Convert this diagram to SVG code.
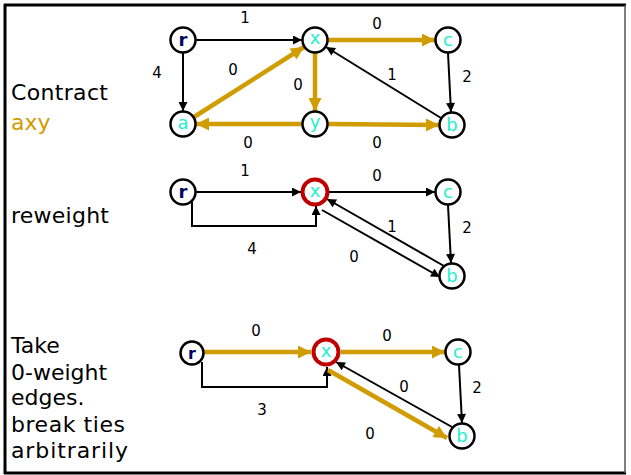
<svg xmlns="http://www.w3.org/2000/svg" width="631" height="475" viewBox="0 0 631 475">
  <style>
    .node { fill: #ffffff; stroke: #000000; stroke-width: 2.5; }
    .hot { fill: #ffffff; stroke: #c00000; stroke-width: 4; }
    .lbl { font-family: "DejaVu Sans", sans-serif; font-size: 18px; fill: #22f0cc; text-anchor: middle; }
    .root { font-family: "DejaVu Sans", sans-serif; font-size: 18px; font-weight: bold; fill: #000066; text-anchor: middle; }
    .w { font-family: "DejaVu Sans", sans-serif; font-size: 15px; fill: #000000; text-anchor: middle; }
    .side { font-family: "DejaVu Sans", sans-serif; font-size: 22px; fill: #000000; }
    .blk { fill: none; stroke: #000000; stroke-width: 2; marker-end: url(#ah); }
    .gld { fill: none; stroke: #d09c00; stroke-width: 4.5; marker-end: url(#gh); }
  </style>
  <defs>
    <marker id="ah" viewBox="0 0 10 10" refX="10" refY="5" markerUnits="userSpaceOnUse" markerWidth="10" markerHeight="9" orient="auto">
      <path d="M0,0 L10,5 L0,10 z" fill="#000000"/>
    </marker>
    <marker id="gh" viewBox="0 0 10 10" refX="10" refY="5" markerUnits="userSpaceOnUse" markerWidth="14" markerHeight="13" orient="auto">
      <path d="M0,0 L10,5 L0,10 z" fill="#d09c00"/>
    </marker>
  </defs>

  <!-- frame -->
  <line x1="4" y1="5" x2="626" y2="5" stroke="#000" stroke-width="3"/>
  <line x1="5" y1="4" x2="5" y2="474" stroke="#000" stroke-width="3"/>
  <line x1="4" y1="473" x2="626" y2="473" stroke="#000" stroke-width="3"/>
  <line x1="625" y1="5" x2="625" y2="473" stroke="#555" stroke-width="1.5"/>

  <!-- captions -->
  <text class="side" x="11" y="100" textLength="97">Contract</text>
  <text class="side" x="11" y="130" style="fill:#d09c00">axy</text>
  <text class="side" x="11" y="223" textLength="98">reweight</text>
  <text class="side" x="11" y="353">Take</text>
  <text class="side" x="11" y="380">0-weight</text>
  <text class="side" x="11" y="405">edges.</text>
  <text class="side" x="11" y="432" textLength="114">break ties</text>
  <text class="side" x="11" y="458" textLength="117">arbitrarily</text>

  <!-- connectors -->
  <g id="edges">
    <!-- step 1 -->
    <line class="blk" x1="196" y1="40" x2="302" y2="40"/>
    <line class="blk" x1="183" y1="53" x2="183" y2="111"/>
    <line class="gld" x1="194" y1="117" x2="304" y2="47"/>
    <line class="gld" x1="315" y1="53" x2="315" y2="111"/>
    <line class="gld" x1="302" y1="124" x2="196" y2="124"/>
    <line class="gld" x1="328" y1="40" x2="435" y2="40"/>
    <line class="gld" x1="328" y1="124" x2="439" y2="125"/>
    <line class="blk" x1="448" y1="53" x2="451" y2="112"/>
    <line class="blk" x1="441" y1="118" x2="326" y2="47"/>
    <!-- step 2 -->
    <line class="blk" x1="196" y1="192" x2="301" y2="192"/>
    <path class="blk" d="M192,202 V226 H316 V206"/>
    <line class="blk" x1="329" y1="192" x2="435" y2="192"/>
    <line class="blk" x1="448" y1="205" x2="451" y2="263"/>
    <line class="blk" x1="444" y1="266" x2="327" y2="199"/>
    <line class="blk" x1="322" y1="210" x2="440" y2="277"/>
    <!-- step 3 -->
    <line class="gld" x1="204" y1="352" x2="311" y2="352"/>
    <path class="blk" d="M202,362 V387 H327 V367"/>
    <line class="gld" x1="341" y1="352" x2="445" y2="352"/>
    <line class="blk" x1="459" y1="365" x2="462" y2="423"/>
    <line class="blk" x1="452" y1="427" x2="336" y2="362"/>
    <line class="gld" x1="328" y1="370" x2="447" y2="438"/>
  </g>

  <!-- weights -->
  <g id="weights">
    <text class="w" x="245" y="23">1</text>
    <text class="w" x="157" y="78">4</text>
    <text class="w" x="233" y="75">0</text>
    <text class="w" x="298" y="90">0</text>
    <text class="w" x="248" y="148">0</text>
    <text class="w" x="377" y="29">0</text>
    <text class="w" x="377" y="148">0</text>
    <text class="w" x="467" y="82">2</text>
    <text class="w" x="392" y="80">1</text>

    <text class="w" x="245" y="176">1</text>
    <text class="w" x="252" y="254">4</text>
    <text class="w" x="377" y="181">0</text>
    <text class="w" x="392" y="232">1</text>
    <text class="w" x="467" y="233">2</text>
    <text class="w" x="354" y="262">0</text>

    <text class="w" x="256" y="336">0</text>
    <text class="w" x="262" y="415">3</text>
    <text class="w" x="387" y="341">0</text>
    <text class="w" x="404" y="392">0</text>
    <text class="w" x="477" y="393">2</text>
    <text class="w" x="370" y="439">0</text>
  </g>

  <!-- step 1 nodes -->
  <g id="r1"><circle class="node" cx="183" cy="40" r="12.5"/><text class="root" x="183" y="46">r</text></g>
  <g id="x1"><circle class="node" cx="315" cy="40" r="12.5"/><text class="lbl" x="315" y="44">x</text></g>
  <g id="c1"><circle class="node" cx="448" cy="40" r="12.5"/><text class="lbl" x="448" y="46">c</text></g>
  <g id="a1"><circle class="node" cx="183" cy="124" r="12.5"/><text class="lbl" x="183" y="129">a</text></g>
  <g id="y1"><circle class="node" cx="315" cy="124" r="12.5"/><text class="lbl" x="315" y="128">y</text></g>
  <g id="b1"><circle class="node" cx="452" cy="125" r="12.5"/><text class="lbl" x="452" y="131">b</text></g>

  <!-- step 2 nodes -->
  <g id="r2"><circle class="node" cx="183" cy="192" r="12.5"/><text class="root" x="183" y="198">r</text></g>
  <g id="x2"><circle class="hot" cx="315" cy="192" r="12.5"/><text class="lbl" x="315" y="197">x</text></g>
  <g id="c2"><circle class="node" cx="448" cy="192" r="12.5"/><text class="lbl" x="448" y="198">c</text></g>
  <g id="b2"><circle class="node" cx="452" cy="276" r="12.5"/><text class="lbl" x="452" y="282">b</text></g>

  <!-- step 3 nodes -->
  <g id="r3"><circle class="node" cx="192" cy="353" r="11.5"/><text class="root" x="192" y="359" style="font-size:16px">r</text></g>
  <g id="x3"><circle class="hot" cx="326" cy="352" r="12.5"/><text class="lbl" x="326" y="357">x</text></g>
  <g id="c3"><circle class="node" cx="458" cy="352" r="12.5"/><text class="lbl" x="458" y="358">c</text></g>
  <g id="b3"><circle class="node" cx="462" cy="436" r="12.5"/><text class="lbl" x="462" y="442">b</text></g>
</svg>
